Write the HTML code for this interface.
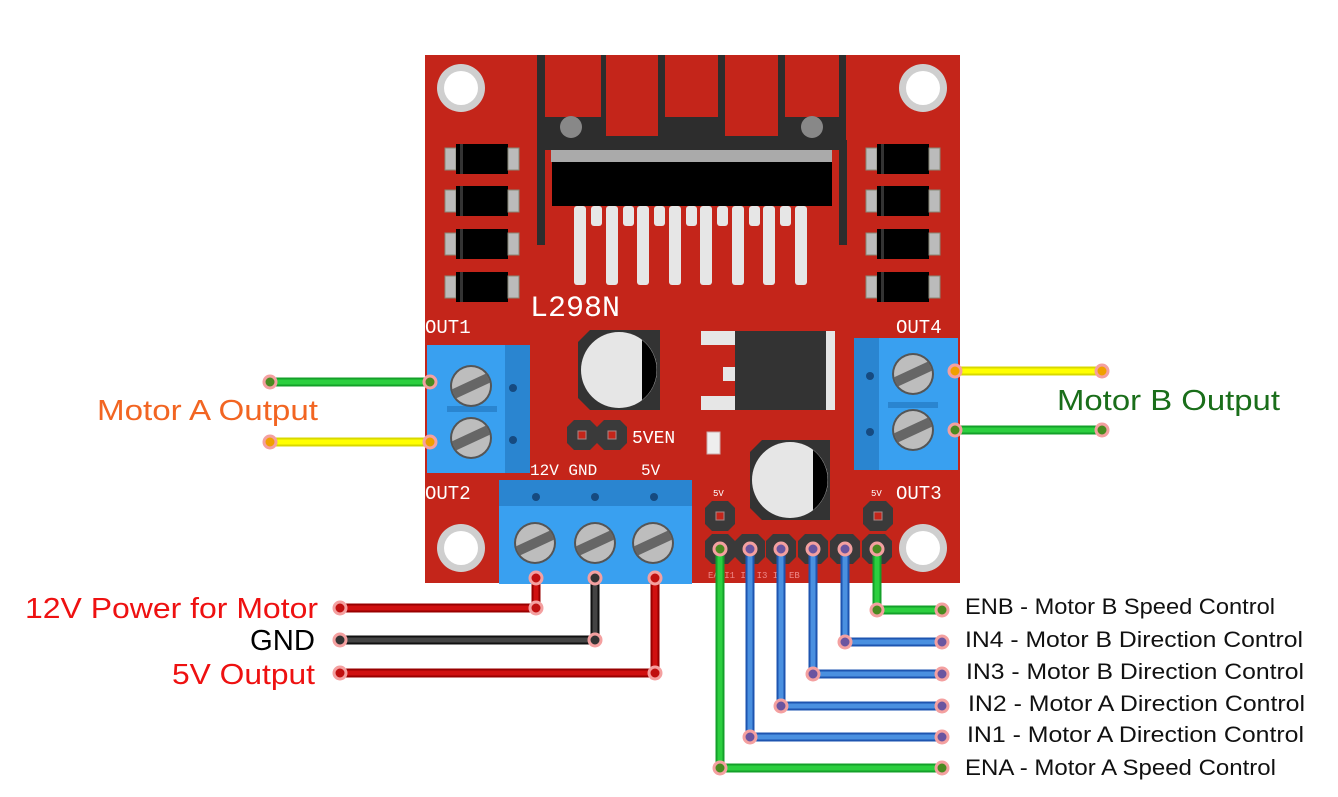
<!DOCTYPE html>
<html><head><meta charset="utf-8"><style>html,body{margin:0;padding:0;background:#fff}svg{display:block}</style></head><body>
<svg width="1338" height="797" viewBox="0 0 1338 797" xmlns="http://www.w3.org/2000/svg" font-family="Liberation Sans, sans-serif">
<defs>
<g id="hole"><circle r="24" fill="#cfcfcf"/><circle r="17" fill="#fff"/></g>
<g id="screw"><circle r="21" fill="#555"/><circle r="19" fill="#bdbdbd"/><rect x="-19" y="-5" width="38" height="10" fill="#666" transform="rotate(-25)"/></g>
<g id="diode"><rect x="-11" y="4" width="11" height="22" fill="#bbb" stroke="#887" stroke-width="1"/><rect x="0" y="0" width="52" height="30" fill="#000"/><rect x="52" y="4" width="11" height="22" fill="#bbb" stroke="#887" stroke-width="1"/><rect x="4" y="0" width="3" height="30" fill="#333"/></g>
<g id="oct"><polygon points="-8,-15 8,-15 15,-8 15,8 8,15 -8,15 -15,8 -15,-8" fill="#3a3a3a"/><rect x="-4" y="-4" width="8" height="8" fill="#c4251a" stroke="#a88" stroke-width="1"/></g>
</defs>
<rect x="425" y="55" width="535" height="528" fill="#c4251a"/>
<use href="#hole" x="461" y="88"/><use href="#hole" x="923" y="88"/><use href="#hole" x="461" y="548"/><use href="#hole" x="923" y="548"/>
<rect x="537" y="55" width="309" height="95" fill="#2d2d2d"/>
<rect x="537" y="140" width="8" height="105" fill="#2d2d2d"/><rect x="839" y="140" width="8" height="105" fill="#2d2d2d"/>
<rect x="545" y="55" width="56" height="62" fill="#c4251a"/>
<rect x="606" y="55" width="52" height="81" fill="#c4251a"/>
<rect x="665" y="55" width="53" height="62" fill="#c4251a"/>
<rect x="725" y="55" width="53" height="81" fill="#c4251a"/>
<rect x="785" y="55" width="54" height="62" fill="#c4251a"/>
<circle cx="571" cy="127" r="11" fill="#888"/><circle cx="812" cy="127" r="11" fill="#888"/>
<rect x="551" y="150" width="281" height="12" fill="#aaa"/>
<rect x="552" y="162" width="280" height="44" fill="#000"/>
<g fill="#e6e6e6">
<rect x="574" y="206" width="12" height="79" rx="3"/><rect x="606" y="206" width="12" height="79" rx="3"/><rect x="637" y="206" width="12" height="79" rx="3"/><rect x="669" y="206" width="12" height="79" rx="3"/><rect x="700" y="206" width="12" height="79" rx="3"/><rect x="732" y="206" width="12" height="79" rx="3"/><rect x="763" y="206" width="12" height="79" rx="3"/><rect x="795" y="206" width="12" height="79" rx="3"/>
<rect x="591" y="206" width="11" height="20" rx="3"/><rect x="623" y="206" width="11" height="20" rx="3"/><rect x="654" y="206" width="11" height="20" rx="3"/><rect x="686" y="206" width="11" height="20" rx="3"/><rect x="717" y="206" width="11" height="20" rx="3"/><rect x="749" y="206" width="11" height="20" rx="3"/><rect x="780" y="206" width="11" height="20" rx="3"/>
</g>
<use href="#diode" x="456" y="144"/><use href="#diode" x="456" y="186"/><use href="#diode" x="456" y="229"/><use href="#diode" x="456" y="272"/>
<use href="#diode" x="877" y="144"/><use href="#diode" x="877" y="186"/><use href="#diode" x="877" y="229"/><use href="#diode" x="877" y="272"/>
<g fill="#fff" font-family="Liberation Mono, monospace">
<text x="530" y="316" font-size="30">L298N</text>
<text x="425" y="333" font-size="19">OUT1</text><text x="896" y="333" font-size="19">OUT4</text>
<text x="425" y="499" font-size="19">OUT2</text><text x="896" y="499" font-size="19">OUT3</text>
<text x="530" y="475" font-size="16">12V GND</text><text x="641" y="475" font-size="16">5V</text>
<text x="632" y="443" font-size="18">5VEN</text>
<text x="713" y="496" font-size="9">5V</text><text x="871" y="496" font-size="9">5V</text>
<text x="708" y="578" font-size="9" fill="#e88">EA I1 I2 I3 I4 EB</text>
</g>
<polygon points="590,330 660,330 660,410 590,410 578,398 578,342" fill="#333"/>
<circle cx="619" cy="370" r="38" fill="#e6e6e6"/><path d="M642,340 A38,38 0 0 1 642,400 Z" fill="#000"/>
<polygon points="762,440 830,440 830,520 762,520 750,508 750,452" fill="#333"/>
<circle cx="790" cy="480" r="38" fill="#e6e6e6"/><path d="M813,450 A38,38 0 0 1 813,510 Z" fill="#000"/>
<rect x="701" y="331" width="40" height="14" fill="#e6e6e6"/><rect x="723" y="367" width="18" height="14" fill="#e6e6e6"/><rect x="701" y="396" width="40" height="14" fill="#e6e6e6"/>
<rect x="735" y="331" width="100" height="79" fill="#333"/><rect x="826" y="331" width="9" height="79" fill="#e6e6e6"/>
<rect x="707" y="432" width="13" height="22" fill="#eee" stroke="#caa"/>
<use href="#oct" x="582" y="435"/><use href="#oct" x="612" y="435"/>
<rect x="427" y="345" width="103" height="128" fill="#39a0f0"/><rect x="505" y="345" width="25" height="128" fill="#2a85d0"/>
<rect x="447" y="406" width="50" height="6" fill="#2a85d0"/>
<use href="#screw" x="471" y="386"/><use href="#screw" x="471" y="438"/>
<circle cx="513" cy="388" r="4" fill="#164a80"/><circle cx="513" cy="440" r="4" fill="#164a80"/>
<rect x="854" y="338" width="104" height="132" fill="#39a0f0"/><rect x="854" y="338" width="25" height="132" fill="#2a85d0"/>
<rect x="888" y="402" width="50" height="6" fill="#2a85d0"/>
<use href="#screw" x="913" y="374"/><use href="#screw" x="913" y="430"/>
<circle cx="870" cy="376" r="4" fill="#164a80"/><circle cx="870" cy="432" r="4" fill="#164a80"/>
<rect x="499" y="480" width="193" height="104" fill="#39a0f0"/><rect x="499" y="480" width="193" height="26" fill="#2a85d0"/>
<use href="#screw" x="535" y="543"/><use href="#screw" x="595" y="543"/><use href="#screw" x="653" y="543"/>
<circle cx="536" cy="497" r="4" fill="#164a80"/><circle cx="595" cy="497" r="4" fill="#164a80"/><circle cx="654" cy="497" r="4" fill="#164a80"/>
<use href="#oct" x="720" y="516"/><use href="#oct" x="878" y="516"/>
<use href="#oct" x="720" y="549"/><use href="#oct" x="750" y="549"/><use href="#oct" x="781" y="549"/><use href="#oct" x="813" y="549"/><use href="#oct" x="845" y="549"/><use href="#oct" x="877" y="549"/>
<g fill="none" stroke-width="9" stroke-linejoin="miter">
<path d="M270,382 H430" stroke="#14a02a"/><path d="M270,382 H430" stroke="#2ccf3f" stroke-width="5"/>
<path d="M270,442 H430" stroke="#d8d800"/><path d="M270,442 H430" stroke="#ffff00" stroke-width="5"/>
<path d="M955,371 H1102" stroke="#d8d800"/><path d="M955,371 H1102" stroke="#ffff00" stroke-width="5"/>
<path d="M955,430 H1102" stroke="#14a02a"/><path d="M955,430 H1102" stroke="#2ccf3f" stroke-width="5"/>
<path d="M536,578 V608 H340" stroke="#900"/><path d="M536,578 V608 H340" stroke="#d01010" stroke-width="5"/>
<path d="M595,578 V640 H340" stroke="#111"/><path d="M595,578 V640 H340" stroke="#444" stroke-width="5"/>
<path d="M655,578 V673 H340" stroke="#900"/><path d="M655,578 V673 H340" stroke="#d01010" stroke-width="5"/>
<path d="M720,549 V768 H942" stroke="#14a02a"/><path d="M720,549 V768 H942" stroke="#2ccf3f" stroke-width="5"/>
<path d="M877,549 V610 H942" stroke="#14a02a"/><path d="M877,549 V610 H942" stroke="#2ccf3f" stroke-width="5"/>
<g stroke="#1e55b0"><path d="M750,549 V737 H942"/><path d="M781,549 V706 H942"/><path d="M813,549 V674 H942"/><path d="M845,549 V642 H942"/></g>
<g stroke="#4a90e0" stroke-width="5"><path d="M750,549 V737 H942"/><path d="M781,549 V706 H942"/><path d="M813,549 V674 H942"/><path d="M845,549 V642 H942"/></g>
</g>
<g stroke="#f4a0a0" stroke-width="3">
<circle cx="270" cy="382" r="6" fill="#4a8a20"/><circle cx="430" cy="382" r="6" fill="#4a8a20"/>
<circle cx="270" cy="442" r="6" fill="#f0a000"/><circle cx="430" cy="442" r="6" fill="#f0a000"/>
<circle cx="955" cy="371" r="6" fill="#f0a000"/><circle cx="1102" cy="371" r="6" fill="#f0a000"/>
<circle cx="955" cy="430" r="6" fill="#4a8a20"/><circle cx="1102" cy="430" r="6" fill="#4a8a20"/>
<circle cx="340" cy="608" r="6" fill="#c01010"/><circle cx="536" cy="608" r="6" fill="#c01010"/><circle cx="536" cy="578" r="6" fill="#c01010"/>
<circle cx="340" cy="640" r="6" fill="#333"/><circle cx="595" cy="640" r="6" fill="#333"/><circle cx="595" cy="578" r="6" fill="#333"/>
<circle cx="340" cy="673" r="6" fill="#c01010"/><circle cx="655" cy="673" r="6" fill="#c01010"/><circle cx="655" cy="578" r="6" fill="#c01010"/>
<g fill="#4a8a20"><circle cx="720" cy="549" r="6"/><circle cx="720" cy="768" r="6"/><circle cx="942" cy="768" r="6"/><circle cx="877" cy="549" r="6"/><circle cx="877" cy="610" r="6"/><circle cx="942" cy="610" r="6"/></g>
<g fill="#6a55a0"><circle cx="750" cy="549" r="6"/><circle cx="750" cy="737" r="6"/><circle cx="942" cy="737" r="6"/>
<circle cx="781" cy="549" r="6"/><circle cx="781" cy="706" r="6"/><circle cx="942" cy="706" r="6"/>
<circle cx="813" cy="549" r="6"/><circle cx="813" cy="674" r="6"/><circle cx="942" cy="674" r="6"/>
<circle cx="845" cy="549" r="6"/><circle cx="845" cy="642" r="6"/><circle cx="942" cy="642" r="6"/></g>
</g>
<g font-size="29" lengthAdjust="spacingAndGlyphs">
<text x="97" y="420" fill="#f26522" textLength="221" lengthAdjust="spacingAndGlyphs">Motor A Output</text>
<text x="1057" y="410" fill="#1a6e1a" textLength="223" lengthAdjust="spacingAndGlyphs">Motor B Output</text>
<text x="25" y="618" fill="#ee1111" textLength="293" lengthAdjust="spacingAndGlyphs">12V Power for Motor</text>
<text x="250" y="650" fill="#000" textLength="65" lengthAdjust="spacingAndGlyphs">GND</text>
<text x="172" y="684" fill="#ee1111" textLength="143" lengthAdjust="spacingAndGlyphs">5V Output</text>
</g>
<g font-size="22" fill="#111">
<text x="965" y="614" textLength="310" lengthAdjust="spacingAndGlyphs">ENB - Motor B Speed Control</text>
<text x="965" y="647" textLength="338" lengthAdjust="spacingAndGlyphs">IN4 - Motor B Direction Control</text>
<text x="966" y="679" textLength="338" lengthAdjust="spacingAndGlyphs">IN3 - Motor B Direction Control</text>
<text x="968" y="711" textLength="337" lengthAdjust="spacingAndGlyphs">IN2 - Motor A Direction Control</text>
<text x="967" y="742" textLength="337" lengthAdjust="spacingAndGlyphs">IN1 - Motor A Direction Control</text>
<text x="965" y="775" textLength="311" lengthAdjust="spacingAndGlyphs">ENA - Motor A Speed Control</text>
</g>
</svg>
</body></html>
